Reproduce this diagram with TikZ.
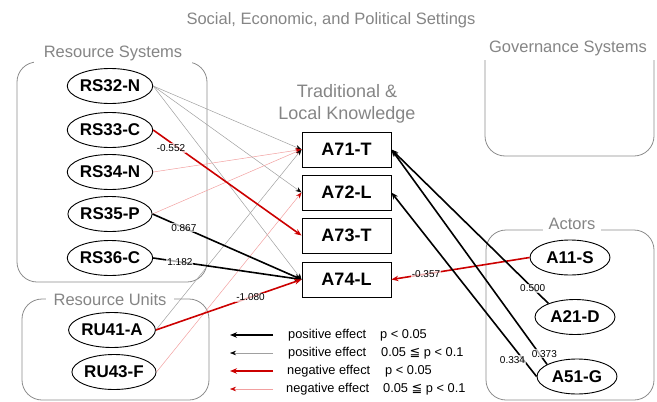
\documentclass[tikz,border=0pt]{standalone}
\usepackage{fontspec}
\setmainfont{Liberation Sans}
\newfontfamily\symfont{DejaVu Sans}
\usetikzlibrary{arrows.meta,shapes.geometric}

\definecolor{titlegray}{HTML}{858585}
\definecolor{framegray}{HTML}{8C8C8C}
\definecolor{negred}{HTML}{CC0000}
\definecolor{negpink}{HTML}{F2A0A0}
\definecolor{weakgray}{HTML}{A0A0A0}

\tikzset{
  varnode/.style={ellipse, draw, line width=0.9pt, minimum width=80pt, minimum height=35pt,
    inner sep=0pt, font=\fontsize{17}{18}\selectfont\bfseries},
  knode/.style={rectangle, draw, line width=0.9pt, minimum width=89pt, minimum height=35pt,
    inner sep=0pt, font=\fontsize{18}{20}\selectfont\bfseries},
  grouptitle/.style={font=\fontsize{16.5}{18}\selectfont, text=titlegray, fill=white,
    inner xsep=8pt, inner ysep=0pt, minimum height=20pt},
  groupbox/.style={draw=framegray, line width=0.8pt, rounded corners=20pt},
  strongpos/.style={-{Stealth[length=7pt,width=5.5pt]}, line width=1.6pt, black},
  weakpos/.style={-{Stealth[length=6pt,width=4.5pt,color=black]}, line width=0.5pt, weakgray},
  strongneg/.style={-{Stealth[length=7pt,width=5.5pt]}, line width=1.6pt, negred},
  weakneg/.style={-{Stealth[length=6pt,width=4.5pt,color=negred]}, line width=0.5pt, negpink},
  coef/.style={font=\fontsize{10}{11}\selectfont, text=black, fill=white, fill opacity=0.7,
    text opacity=1, inner sep=1pt},
  legendtext/.style={font=\fontsize{12.8}{14}\selectfont, anchor=west, inner sep=0pt},
}

\begin{document}
\begin{tikzpicture}[x=1pt, y=-1pt]
\useasboundingbox (0,0) rectangle (657,402);

% overall setting
\node[font=\fontsize{16.5}{18}\selectfont, text=titlegray] (setting) at (331,20)
  {Social, Economic, and Political Settings};

% group frames
\draw[groupbox] (17,62) rectangle (207,282);
\node[grouptitle, inner xsep=10pt, minimum height=22pt] (rstitle) at (113,53.5) {Resource Systems};

\draw[groupbox] (22,299) rectangle (209,400);
\node[grouptitle] (rutitle) at (110,300) {Resource Units};

\draw[groupbox] (485,60) -- (485,156) -- (654,156) -- (654,60);
\node[grouptitle] (gstitle) at (568,48) {Governance Systems};

\draw[groupbox] (486,230) rectangle (654,400);
\node[grouptitle, inner xsep=6pt] (actitle) at (572,223.5) {Actors};

\node[font=\fontsize{18}{22}\selectfont, text=titlegray, align=center] (tlktitle) at (347,104)
  {Traditional \&\\Local Knowledge};

% resource system and unit variables
\node[varnode] (RS32) at (110,86)  {RS32-N};
\node[varnode] (RS33) at (110,130) {RS33-C};
\node[varnode] (RS34) at (110,172) {RS34-N};
\node[varnode] (RS35) at (110,214) {RS35-P};
\node[varnode] (RS36) at (110,258) {RS36-C};
\node[varnode] (RU41) at (112,330) {RU41-A};
\node[varnode] (RU43) at (114,372) {RU43-F};

% knowledge variables
\node[knode] (A71) at (346.5,149.5) {A71-T};
\node[knode] (A72) at (346.5,192.5) {A72-L};
\node[knode] (A73) at (346.5,235.5) {A73-T};
\node[knode] (A74) at (346.5,279.5) {A74-L};

% actor variables
\node[varnode] (A11) at (570,257.5) {A11-S};
\node[varnode] (A21) at (575,317)   {A21-D};
\node[varnode] (A51) at (577,376.5) {A51-G};

% weak effects (0.05 <= p < 0.1)
\draw[weakpos] (RS32.east) -- (A71.west);
\draw[weakpos] (RS32.east) -- (A72.west);
\draw[weakpos] (RS32.east) -- (A74.west);
\draw[weakneg] (RS34.east) -- (A71.west);
\draw[weakneg] (RS35.east) -- (A71.west);
\draw[weakpos] (RU41.east) -- (A71.west);
\draw[weakneg] (RU43.east) -- (A72.west);

% strong effects (p < 0.05)
\draw[strongneg] (RS33.east) -- node[coef, pos=0.12, below] {-0.552} (A73.west);
\draw[strongpos] (RS35.east) -- node[coef, pos=0.21] {0.867} (A74.west);
\draw[strongpos] (RS36.east) -- node[coef, pos=0.18] {1.182} (A74.west);
\draw[strongneg] (RU41.east) -- node[coef, pos=0.65] {-1.080} (A74.west);
\draw[strongneg] (A11.west) -- node[coef, pos=0.75] {-0.357} (A74.east);
\draw[strongpos] (A21.153) -- node[coef, pos=0.1] {0.500} (A71.east);
\draw[strongpos] (A51.158) -- node[coef, pos=0.05, xshift=5pt] {0.373} (A71.east);
\draw[strongpos] (A51.west) -- node[coef, pos=0.09, xshift=-11pt] {0.334} (A72.east);

% legend
\coordinate (k1a) at (273,335); \coordinate (k1b) at (230,335);
\coordinate (k2a) at (273,353); \coordinate (k2b) at (230,353);
\coordinate (k3a) at (273,371); \coordinate (k3b) at (230,371);
\coordinate (k4a) at (273,389); \coordinate (k4b) at (230,389);
\draw[strongpos] (k1a) -- (k1b);
\draw[weakpos]   (k2a) -- (k2b);
\draw[strongneg] (k3a) -- (k3b);
\draw[weakneg]   (k4a) -- (k4b);
\node[legendtext] (t1) at (288,335) {positive effect};
\node[legendtext] (p1) at (380,335) {p < 0.05};
\node[legendtext] (t2) at (288,353) {positive effect};
\node[legendtext] (p2) at (381,353) {0.05 {\symfont ≦} p < 0.1};
\node[legendtext] (t3) at (287,371) {negative effect};
\node[legendtext] (p3) at (385,371) {p < 0.05};
\node[legendtext] (t4) at (286,389) {negative effect};
\node[legendtext] (p4) at (383,389) {0.05 {\symfont ≦} p < 0.1};
\end{tikzpicture}
\end{document}
